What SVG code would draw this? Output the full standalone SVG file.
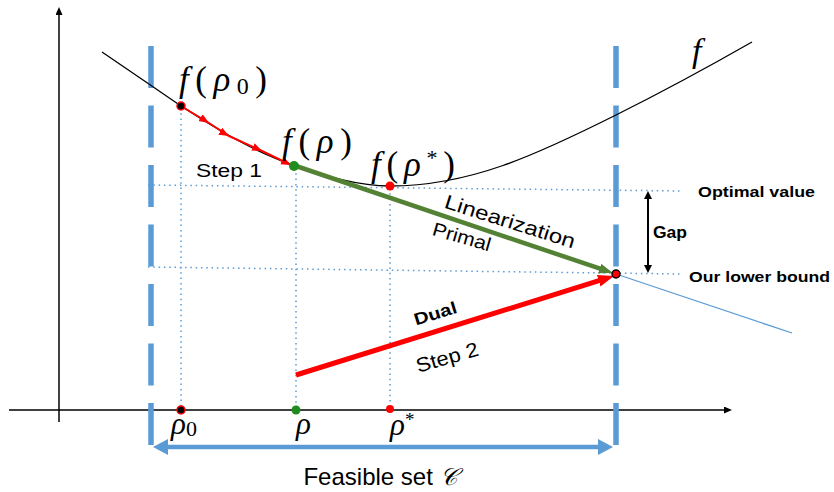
<svg xmlns="http://www.w3.org/2000/svg" width="834" height="492" viewBox="0 0 834 492">
<style>
.sans{font-family:"Liberation Sans","Open Sans",Arial,sans-serif;fill:#000}
.bold{font-weight:bold}
.math{font-family:"Liberation Serif","DejaVu Serif",serif;fill:#000}
.it{font-style:italic}
.dot{stroke:#5B9BD5;stroke-width:1.5;stroke-dasharray:1.5 3.8;fill:none}
.dash{stroke:#5B9BD5;stroke-width:5.5;stroke-dasharray:42 17.5;fill:none}
</style>
<defs>
<marker id="mAxis" markerUnits="userSpaceOnUse" markerWidth="10" markerHeight="8" refX="1" refY="3.5" orient="auto"><path d="M0,0 L8,3.5 L0,7 Z" fill="#000"/></marker>
<marker id="mGap" markerUnits="userSpaceOnUse" markerWidth="10" markerHeight="10" refX="1" refY="4" orient="auto-start-reverse"><path d="M0,0 L8,4 L0,8 Z" fill="#000"/></marker>
<marker id="mRedS" markerUnits="userSpaceOnUse" markerWidth="12" markerHeight="10" refX="10" refY="4" orient="auto"><path d="M0,0 L10,4 L0,8 Z" fill="#FF0000"/></marker>
<marker id="mGreen" markerUnits="userSpaceOnUse" markerWidth="16" markerHeight="12" refX="2" refY="5" orient="auto"><path d="M0,0 L14,5 L0,10 Z" fill="#548235"/></marker>
<marker id="mRed" markerUnits="userSpaceOnUse" markerWidth="18" markerHeight="14" refX="2" refY="6" orient="auto"><path d="M0,0 L16,6 L0,12 Z" fill="#FF0000"/></marker>
<marker id="mBlue" markerUnits="userSpaceOnUse" markerWidth="18" markerHeight="18" refX="2" refY="8" orient="auto-start-reverse"><path d="M0,0 L15,8 L0,16 Z" fill="#5B9BD5"/></marker>
</defs>

<g id="axes">
<line x1="59" y1="422" x2="59" y2="14" stroke="#000" stroke-width="1.5" marker-end="url(#mAxis)"/>
<line x1="9" y1="410" x2="725" y2="410" stroke="#000" stroke-width="1.5" marker-end="url(#mAxis)"/>
</g>

<g id="guides">
<line class="dot" x1="148" y1="185" x2="682" y2="191"/>
<line class="dot" x1="148" y1="267" x2="682" y2="274"/>
<line class="dot" x1="181" y1="108" x2="181" y2="406"/>
<line class="dot" x1="296" y1="168" x2="296" y2="406"/>
<line class="dot" x1="390" y1="188" x2="390" y2="405"/>
</g>

<g id="feasible-set">
<line class="dash" x1="151" y1="46" x2="151" y2="446"/>
<line class="dash" x1="616" y1="46" x2="616" y2="446"/>
<line x1="166" y1="447" x2="600" y2="447" stroke="#5B9BD5" stroke-width="4.5" marker-start="url(#mBlue)" marker-end="url(#mBlue)"/>
<text class="sans" x="380" y="485" font-size="24" text-anchor="middle">Feasible set <tspan class="math it">𝒞</tspan></text>
</g>

<g id="curve-f">
<path d="M102,52 C127,69 155,88 181,106 C221,132 256,152.6 296,166 C327,176.4 358,186 390,186 C470,186 536,155 616,115 C660,93 710,66 752,42" fill="none" stroke="#000" stroke-width="1.3"/>
<text class="math it" x="692" y="62" font-size="34">f</text>
</g>

<g id="tangent-extension">
<line x1="616" y1="274" x2="792" y2="333" stroke="#5B9BD5" stroke-width="1.3"/>
</g>

<g id="connectors">
<path d="M181,106 L209,123 L229,136 L262,151 L291,165" fill="none" stroke="#FF0000" stroke-width="2" marker-mid="url(#mRedS)" marker-end="url(#mRedS)"/>
<line x1="296" y1="166" x2="601.6" y2="269.2" stroke="#548235" stroke-width="4.5" marker-end="url(#mGreen)"/>
<line x1="296" y1="375" x2="600.6" y2="280.2" stroke="#FF0000" stroke-width="5" marker-end="url(#mRed)"/>
<line x1="648" y1="198" x2="648" y2="266" stroke="#000" stroke-width="2" marker-start="url(#mGap)" marker-end="url(#mGap)"/>
</g>

<g id="node-f-rho0">
<circle cx="181" cy="106" r="4" fill="#000" stroke="#FF0000" stroke-width="1.5"/>
<text class="math" x="179" y="91" font-size="35" textLength="88" lengthAdjust="spacing"><tspan class="it">f</tspan>(<tspan class="it">ρ</tspan><tspan font-size="24" dy="3">0</tspan><tspan dy="-3">)</tspan></text>
</g>
<g id="node-f-rho">
<circle cx="294" cy="166" r="5" fill="#1E8C1E"/>
<text class="math" x="282" y="153" font-size="35" textLength="70" lengthAdjust="spacing"><tspan class="it">f</tspan>(<tspan class="it">ρ</tspan>)</text>
</g>
<g id="node-f-rhostar">
<circle cx="390" cy="186" r="4.5" fill="#FF0000"/>
<text class="math" x="371" y="176" font-size="35" textLength="84" lengthAdjust="spacing"><tspan class="it">f</tspan>(<tspan class="it">ρ</tspan><tspan font-size="22" dy="-11">*</tspan><tspan dy="11">)</tspan></text>
</g>
<g id="node-lower-bound">
<circle cx="616" cy="274" r="4" fill="#FF0000" stroke="#000" stroke-width="1.5"/>
</g>

<g id="node-rho0">
<circle cx="181" cy="410" r="4" fill="#000" stroke="#FF0000" stroke-width="1.5"/>
<text class="math" x="171" y="434" font-size="31"><tspan class="it">ρ</tspan><tspan font-size="22" dy="2">0</tspan></text>
</g>
<g id="node-rho">
<circle cx="296" cy="410" r="4.5" fill="#1E8C1E"/>
<text class="math it" x="296" y="434" font-size="31">ρ</text>
</g>
<g id="node-rhostar">
<circle cx="390" cy="409" r="4" fill="#FF0000"/>
<text class="math" x="390" y="435" font-size="31"><tspan class="it">ρ</tspan><tspan font-size="19" dy="-9">*</tspan></text>
</g>

<g id="labels">
<text class="sans" x="196" y="177" font-size="18" textLength="66" lengthAdjust="spacingAndGlyphs">Step 1</text>
<text class="sans" x="0" y="0" font-size="20" text-anchor="middle" textLength="136" lengthAdjust="spacingAndGlyphs" transform="translate(508,228) rotate(17.5)">Linearization</text>
<text class="sans" x="0" y="0" font-size="19" text-anchor="middle" textLength="60" lengthAdjust="spacingAndGlyphs" transform="translate(460,243) rotate(16)">Primal</text>
<text class="sans bold" x="0" y="0" font-size="17" text-anchor="middle" textLength="44" lengthAdjust="spacingAndGlyphs" transform="translate(437,319) rotate(-17)">Dual</text>
<text class="sans" x="0" y="0" font-size="20" text-anchor="middle" textLength="64" lengthAdjust="spacingAndGlyphs" transform="translate(449,364) rotate(-16)">Step 2</text>
<text class="sans bold" x="653" y="238" font-size="16" textLength="34" lengthAdjust="spacingAndGlyphs">Gap</text>
<text class="sans bold" x="698" y="197" font-size="15" textLength="117" lengthAdjust="spacingAndGlyphs">Optimal value</text>
<text class="sans bold" x="689" y="282" font-size="15" textLength="141" lengthAdjust="spacingAndGlyphs">Our lower bound</text>
</g>
</svg>
